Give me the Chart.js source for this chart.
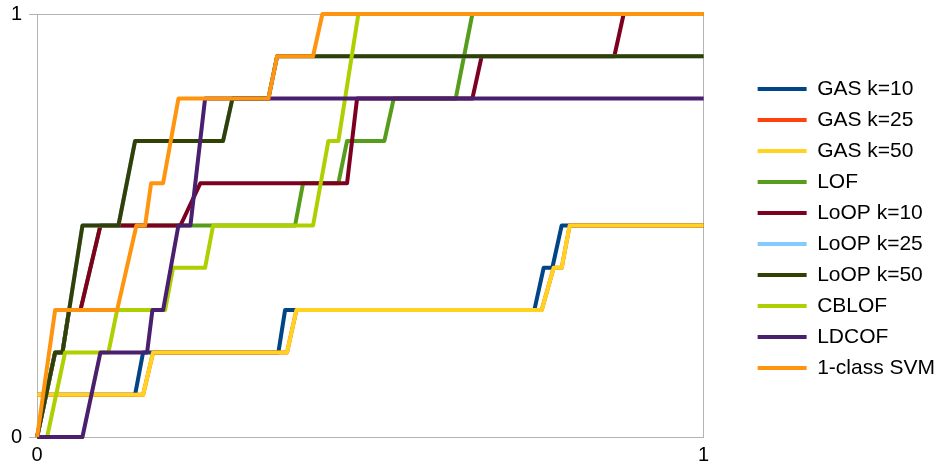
<!DOCTYPE html>
<html>
<head>
<meta charset="utf-8">
<script src="https://cdn.jsdelivr.net/npm/chart.js@4/dist/chart.umd.min.js"></script>
<style>
html,body{margin:0;padding:0;background:#fff;}
#wrap{width:937px;height:466px;position:relative;}
</style>
</head>
<body>
<div id="wrap"><canvas id="c"></canvas></div>
<script>
const seriesNames = ["GAS k=10","GAS k=25","GAS k=50","LOF","LoOP k=10","LoOP k=25","LoOP k=50","CBLOF","LDCOF","1-class SVM"];
const seriesColors = ["#004586","#ff420e","#ffd320","#579d1c","#7e0021","#83caff","#314004","#aecf00","#4b1f6f","#ff950e"];

const gas10X = [0,0.147,0.159,0.362,0.372,0.746,0.760,0.773,0.787,1];
const gas10Y = [0.1,0.1,0.2,0.2,0.3,0.3,0.4,0.4,0.5,0.5];
const gas25X = [0,0.159,0.174,0.375,0.389,0.757,0.775,0.787,0.799,1];
const gas25Y = [0.1,0.1,0.2,0.2,0.3,0.3,0.4,0.4,0.5,0.5];
const gas50X = [0,0.159,0.174,0.375,0.389,0.757,0.775,0.787,0.799,1];
const gas50Y = [0.1,0.1,0.2,0.2,0.3,0.3,0.4,0.4,0.5,0.5];
const lofX = [0,0.027,0.038,0.048,0.065,0.095,0.387,0.399,0.452,0.465,0.521,0.535,0.628,0.653,1];
const lofY = [0,0.2,0.2,0.3,0.3,0.5,0.5,0.6,0.6,0.7,0.7,0.8,0.8,1,1];
const loop10X = [0,0.027,0.038,0.048,0.065,0.095,0.215,0.245,0.465,0.480,0.653,0.667,0.866,0.880,1];
const loop10Y = [0,0.2,0.2,0.3,0.3,0.5,0.5,0.6,0.6,0.8,0.8,0.9,0.9,1,1];
const loop25X = [0,0.027,0.038,0.068,0.122,0.147,0.279,0.293,0.347,0.360,1];
const loop25Y = [0,0.2,0.2,0.5,0.5,0.7,0.7,0.8,0.8,0.9,0.9];
const loop50X = [0,0.027,0.038,0.068,0.122,0.147,0.279,0.293,0.347,0.360,1];
const loop50Y = [0,0.2,0.2,0.5,0.5,0.7,0.7,0.8,0.8,0.9,0.9];
const cblofX = [0,0.015,0.042,0.107,0.120,0.192,0.204,0.252,0.264,0.414,0.437,0.452,0.482,1];
const cblofY = [0,0,0.2,0.2,0.3,0.3,0.4,0.4,0.5,0.5,0.7,0.7,1,1];
const ldcofX = [0,0.068,0.095,0.165,0.173,0.189,0.212,0.230,0.252,1];
const ldcofY = [0,0,0.2,0.2,0.3,0.3,0.5,0.5,0.8,0.8];
const svmX = [0,0.027,0.120,0.149,0.162,0.171,0.189,0.212,0.347,0.360,0.414,0.428,1];
const svmY = [0,0.3,0.3,0.5,0.5,0.6,0.6,0.8,0.8,0.9,0.9,1,1];

const xTickValues = [0,1];
const yTickValues = [0,1];

const allX = [gas10X,gas25X,gas50X,lofX,loop10X,loop25X,loop50X,cblofX,ldcofX,svmX];
const allY = [gas10Y,gas25Y,gas50Y,lofY,loop10Y,loop25Y,loop50Y,cblofY,ldcofY,svmY];

const FONT = "'Liberation Sans', Arial, sans-serif";
const datasets = seriesNames.map((name,i)=>({
  label: name,
  data: allX[i].map((x,j)=>({x:x,y:allY[i][j]})),
  borderColor: seriesColors[i],
  backgroundColor: seriesColors[i],
  borderWidth: 4,
  pointRadius: 0,
  pointHoverRadius: 0,
  tension: 0,
  fill: false,
  clip: false,
  borderJoinStyle: 'round',
  order: seriesNames.length - i
}));

new Chart(document.getElementById('c'), {
  type: 'line',
  data: { datasets: datasets },
  options: {
    responsive: true,
    maintainAspectRatio: false,
    animation: false,
    events: [],
    layout: { padding: { left: 4, right: -8, top: 0, bottom: -7 } },
    scales: {
      x: {
        type: 'linear',
        min: 0, max: 1,
        afterBuildTicks: s => { s.ticks = xTickValues.map(v=>({value:v})); },
        grid: { display: true, color: '#b3b3b3', lineWidth: 1, drawTicks: false },
        border: { display: true, color: '#b3b3b3', width: 1 },
        ticks: { color: '#000', padding: 6, font: { family: FONT, size: 20 }, maxRotation: 0 }
      },
      y: {
        type: 'linear',
        min: 0, max: 1,
        afterBuildTicks: s => { s.ticks = yTickValues.map(v=>({value:v})); },
        grid: { display: true, color: '#b3b3b3', lineWidth: 1, drawTicks: true, tickLength: 8 },
        border: { display: true, color: '#b3b3b3', width: 1 },
        ticks: { color: '#000', padding: 7, font: { family: FONT, size: 20, lineHeight: 0.7 } }
      },
      gap: {
        type: 'linear',
        position: 'right',
        display: true,
        grid: { display: false },
        border: { display: false },
        ticks: { display: false },
        afterFit: s => { s.width = 44; }
      }
    },
    plugins: {
      tooltip: { enabled: false },
      legend: {
        display: true,
        position: 'right',
        fullSize: false,
        align: 'center',
        maxWidth: 240,
        title: { display: true, text: '', padding: 0, font: { size: 6, lineHeight: 1 } },
        labels: {
          color: '#000',
          font: { family: FONT, size: 21 },
          boxWidth: 49,
          boxHeight: 4,
          padding: 10,
          sort: (a,b) => a.datasetIndex - b.datasetIndex,
          generateLabels: chart => {
            const items = Chart.defaults.plugins.legend.labels.generateLabels(chart);
            return items.map(it => Object.assign(it, { lineWidth: 0, fillStyle: it.strokeStyle }));
          }
        }
      }
    }
  }
});
</script>
</body>
</html>
